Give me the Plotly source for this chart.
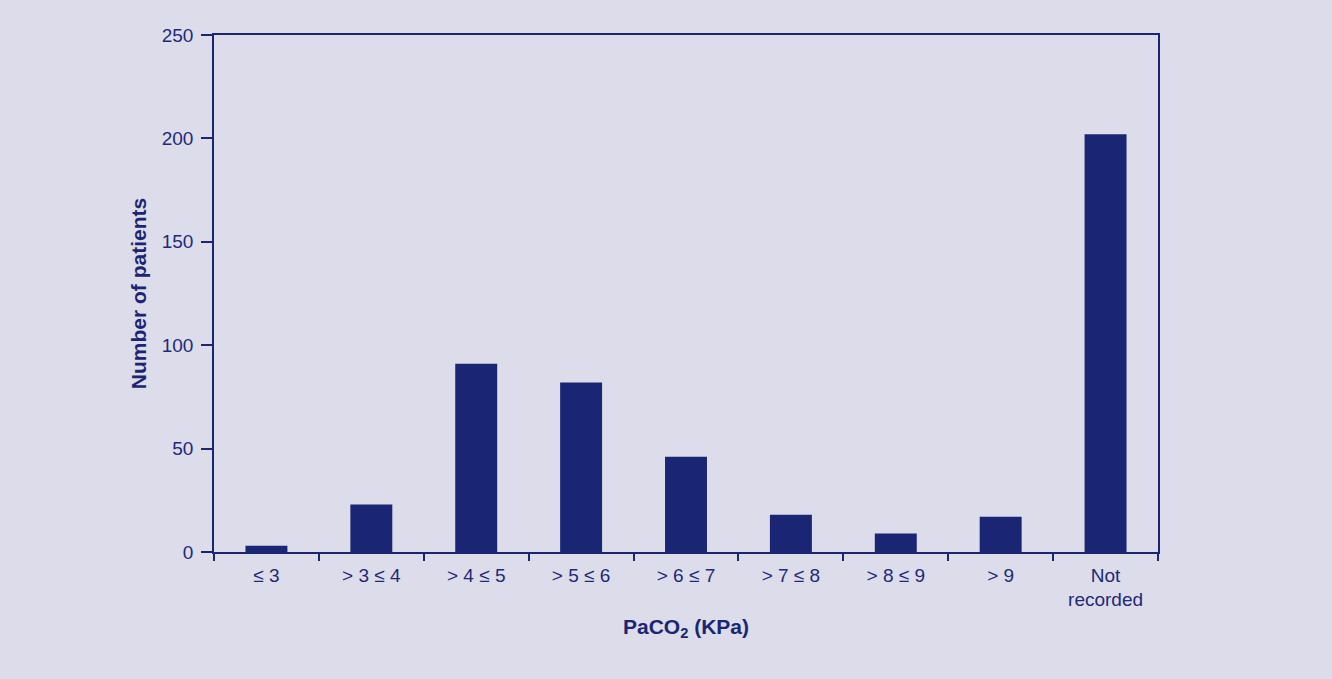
import plotly.graph_objects as go

categories = ["≤ 3", "> 3 ≤ 4", "> 4 ≤ 5", "> 5 ≤ 6", "> 6 ≤ 7", "> 7 ≤ 8", "> 8 ≤ 9", "> 9", "Not<br>recorded"]
patients = [3, 23, 91, 82, 46, 18, 9, 17, 202]
y_ticks = [0, 50, 100, 150, 200, 250]

navy = "#1a2673"
text_col = "#1f2a78"
bg = "#dcdcea"

fig = go.Figure(go.Bar(x=categories, y=patients, marker=dict(color=navy, line=dict(width=0))))

fig.update_layout(
    width=1332, height=679,
    paper_bgcolor=bg, plot_bgcolor=bg,
    margin=dict(l=214, r=174, t=35, b=127),
    bargap=0.6,
    showlegend=False,
    font=dict(family="Liberation Sans, Arial, sans-serif", size=19, color=text_col),
)
fig.update_xaxes(
    tickson="boundaries", ticks="outside", ticklen=7, tickcolor=navy, tickwidth=1.5,
    showline=True, linecolor=navy, linewidth=1.5, mirror=True,
    showgrid=False, zeroline=False,
    tickfont=dict(size=19, color=text_col), ticklabelstandoff=5,
    title=dict(text="<b>PaCO<sub>2</sub> (KPa)</b>", font=dict(size=21, color=navy), standoff=10),
)
fig.update_yaxes(
    range=[0, 250], tickvals=y_ticks, ticks="outside", ticklen=11, tickcolor=navy, tickwidth=1.5,
    showline=True, linecolor=navy, linewidth=1.5, mirror=True,
    showgrid=False, zeroline=False,
    tickfont=dict(size=19, color=text_col), ticklabelstandoff=4,
    title=dict(text="<b>Number of patients</b>", font=dict(size=21, color=navy), standoff=9),
)

fig.write_html(
    "out.html",
    config={"displayModeBar": False},
    post_script="document.body.style.margin='0';document.body.style.background='" + bg + "';",
)
